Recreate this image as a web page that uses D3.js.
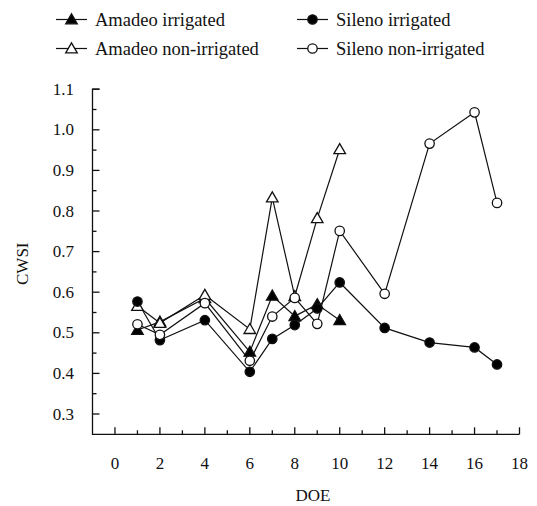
<!DOCTYPE html>
<html>
<head>
<meta charset="utf-8">
<script src="https://cdn.jsdelivr.net/npm/d3@7"></script>
<style>
  html, body { margin: 0; padding: 0; background: #fff; }
  svg { display: block; font-family: "Liberation Serif", "Times New Roman", serif; }
</style>
</head>
<body>
<svg id="chart" width="537" height="506"></svg>
<script>
// Days after the end of irrigation (DOE)
const daysAmadeo = [1, 2, 4, 6, 7, 8, 9, 10];
const daysSileno = [1, 2, 4, 6, 7, 8, 9, 10, 12, 14, 16, 17];

// Crop water stress index per treatment
const amadeoIrrigated    = [0.507, 0.527, 0.585, 0.453, 0.591, 0.541, 0.570, 0.531];
const amadeoNonIrrigated = [0.566, 0.524, 0.593, 0.509, 0.833, 0.590, 0.782, 0.952];
const silenoIrrigated    = [0.577, 0.482, 0.531, 0.404, 0.485, 0.519, 0.560, 0.624, 0.512, 0.476, 0.464, 0.422];
const silenoNonIrrigated = [0.521, 0.495, 0.573, 0.431, 0.540, 0.586, 0.522, 0.751, 0.596, 0.966, 1.043, 0.820];

const seriesNames = ["Amadeo irrigated", "Amadeo non-irrigated", "Sileno irrigated", "Sileno non-irrigated"];

const xTickValues = [0, 2, 4, 6, 8, 10, 12, 14, 16, 18];
const yTickValues = [0.3, 0.4, 0.5, 0.6, 0.7, 0.8, 0.9, 1.0, 1.1];

const series = [
  { name: seriesNames[0], x: daysAmadeo, y: amadeoIrrigated,    shape: "triangle", fill: "#000" },
  { name: seriesNames[1], x: daysAmadeo, y: amadeoNonIrrigated, shape: "triangle", fill: "#fff" },
  { name: seriesNames[2], x: daysSileno, y: silenoIrrigated,    shape: "circle",   fill: "#000" },
  { name: seriesNames[3], x: daysSileno, y: silenoNonIrrigated, shape: "circle",   fill: "#fff" }
];

const svg = d3.select("#chart");
const ink = "#111";

const x = d3.scaleLinear().domain([-1, 18]).range([92.5, 519.5]);
const y = d3.scaleLinear().domain([0.25, 1.1]).range([434.3, 89.2]);

// Axes with inward ticks (major + minor)
const axes = svg.append("g").attr("stroke", ink).attr("stroke-width", 1.3).attr("fill", "none");
axes.append("path")
  .attr("d", `M${x(-1) + 7},${y(1.1)}H${x(-1)}V${y(0.25)}H${x(18)}`);

const yMinor = d3.range(0.35, 1.1, 0.1);
yTickValues.forEach(v => axes.append("line")
  .attr("x1", x(-1)).attr("x2", x(-1) + 7).attr("y1", y(v)).attr("y2", y(v)));
yMinor.forEach(v => axes.append("line")
  .attr("x1", x(-1)).attr("x2", x(-1) + 4).attr("y1", y(v)).attr("y2", y(v)));

const xMinor = d3.range(1, 18, 2);
xTickValues.forEach(v => axes.append("line")
  .attr("x1", x(v)).attr("x2", x(v)).attr("y1", y(0.25)).attr("y2", y(0.25) - 7));
xMinor.forEach(v => axes.append("line")
  .attr("x1", x(v)).attr("x2", x(v)).attr("y1", y(0.25)).attr("y2", y(0.25) - 4));

// Tick labels
const labels = svg.append("g").attr("fill", ink).attr("font-size", 17);
labels.selectAll(".yl").data(yTickValues).join("text")
  .attr("x", 74).attr("y", d => y(d)).attr("dy", "0.33em")
  .attr("text-anchor", "end").text(d => d3.format(".1f")(d));
labels.selectAll(".xl").data(xTickValues).join("text")
  .attr("x", d => x(d)).attr("y", 469)
  .attr("text-anchor", "middle").text(d => d);

svg.append("text").attr("font-size", 17).attr("fill", ink)
  .attr("text-anchor", "middle")
  .attr("transform", `translate(28,${(y(0.25) + y(1.1)) / 2 + 2}) rotate(-90)`)
  .text("CWSI");
svg.append("text").attr("font-size", 17).attr("fill", ink)
  .attr("text-anchor", "middle").attr("x", 313).attr("y", 501)
  .text("DOE");

// Marker helpers
const triPath = d3.symbol(d3.symbolTriangle, 58)();
function drawMarker(g, shape, fill) {
  if (shape === "triangle") {
    g.append("path").attr("d", triPath).attr("transform", "translate(0,1)")
      .attr("fill", fill).attr("stroke", ink).attr("stroke-width", 1.3);
  } else {
    g.append("circle").attr("r", 4.7)
      .attr("fill", fill).attr("stroke", ink).attr("stroke-width", 1.3);
  }
}

// Series lines and markers
const line = d3.line().x(d => x(d[0])).y(d => y(d[1]));
series.forEach(s => {
  const pts = s.x.map((d, i) => [d, s.y[i]]);
  svg.append("path").datum(pts).attr("d", line)
    .attr("fill", "none").attr("stroke", ink).attr("stroke-width", 1.2);
});
series.forEach(s => {
  s.x.forEach((d, i) => {
    const g = svg.append("g").attr("transform", `translate(${x(d)},${y(s.y[i])})`);
    drawMarker(g, s.shape, s.fill);
  });
});

// Legend
const legendPos = [[56, 19.5], [56, 48.5], [297, 19.5], [297, 48.5]];
series.forEach((s, i) => {
  const [lx, ly] = legendPos[i];
  const g = svg.append("g").attr("transform", `translate(${lx},${ly})`);
  g.append("line").attr("x1", 0).attr("x2", 31).attr("y1", 0).attr("y2", 0)
    .attr("stroke", ink).attr("stroke-width", 1.2);
  const m = g.append("g").attr("transform", "translate(15.5,0)");
  drawMarker(m, s.shape, s.fill);
  g.append("text").attr("x", 39).attr("y", 0).attr("dy", "0.33em")
    .attr("font-size", 18.5).attr("fill", ink).text(s.name);
});
</script>
</body>
</html>
